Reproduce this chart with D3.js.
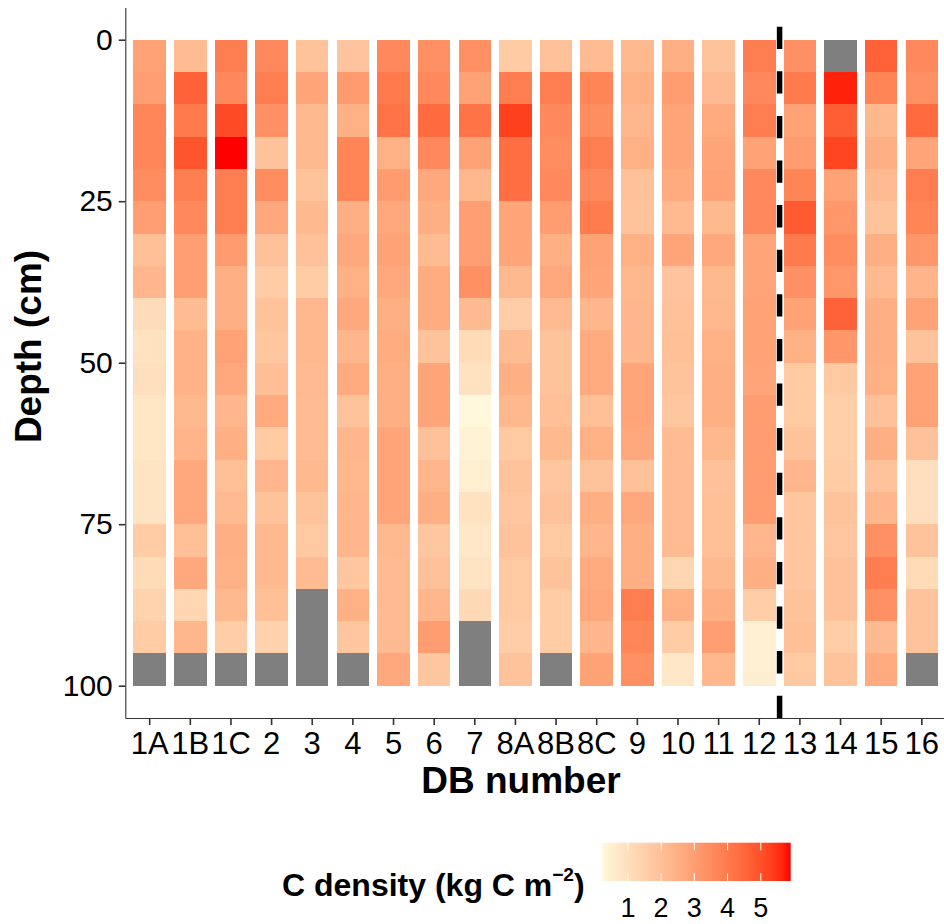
<!DOCTYPE html>
<html>
<head>
<meta charset="utf-8">
<script src="https://cdn.jsdelivr.net/npm/d3@7"></script>
<style>
  html, body { margin: 0; padding: 0; background: #ffffff; }
  svg { display: block; font-family: "Liberation Sans", Arial, Helvetica, sans-serif; }
</style>
</head>
<body>
<svg id="chart" width="944" height="924"></svg>
<script>
// Dam / DB core identifiers along the x axis
const sites = ["1A","1B","1C","2","3","4","5","6","7","8A","8B","8C","9","10","11","12","13","14","15","16"];
// Top depth (cm) of each 5 cm layer
const layerTop = [0,5,10,15,20,25,30,35,40,45,50,55,60,65,70,75,80,85,90,95];
const layerThickness = 5;
const depthTicks = [0,25,50,75,100];
const legendTicks = [1,2,3,4,5];

// Carbon density (kg C m^-2) per layer, surface to 100 cm; null = no sample
const db1A = [2.9,3.0,3.7,3.7,3.5,3.0,2.0,2.3,1.1,0.9,1.0,0.8,0.8,0.85,0.85,1.6,1.15,1.4,1.6,null];
const db1B = [2.1,4.6,4.0,4.9,3.9,3.6,3.0,3.0,2.1,2.4,2.4,2.2,2.35,2.7,2.7,2.0,2.7,1.3,2.3,null];
const db1C = [3.9,3.6,5.1,5.9,3.9,3.9,3.1,2.5,2.5,2.9,2.7,2.3,2.5,2.0,2.15,2.5,2.45,2.2,1.55,null];
const db2  = [3.6,3.9,3.4,1.9,3.5,2.7,1.95,1.6,1.9,1.75,2.05,2.65,1.7,2.3,1.9,2.2,2.2,2.0,1.45,null];
const db3  = [1.9,2.8,2.2,2.2,1.9,2.2,1.95,1.6,2.25,2.25,2.15,2.1,2.1,2.2,1.9,1.7,2.1,null,null,null];
const db4  = [1.85,3.1,2.45,3.75,3.75,2.5,2.7,2.45,2.7,2.3,2.65,1.9,2.3,2.25,2.3,2.3,1.75,2.45,1.8,null];
const db5  = [3.6,4.0,4.2,2.45,3.1,2.7,2.9,2.7,2.5,2.6,2.5,2.5,2.8,2.8,2.8,2.2,2.15,2.15,2.15,2.7];
const db6  = [3.4,3.6,4.4,3.6,2.7,2.5,2.1,2.6,2.6,1.9,2.8,2.8,1.95,2.3,2.5,1.75,1.95,2.3,3.05,1.75];
const db7  = [3.4,2.9,4.2,2.9,2.25,3.0,3.0,3.4,2.15,1.15,0.9,0.22,0.4,0.5,0.9,0.75,0.85,1.2,null,null];
const db8A = [1.65,3.9,5.3,4.3,4.3,2.8,2.8,2.2,1.55,2.1,2.5,2.25,1.7,1.9,1.8,1.9,1.7,1.7,1.55,1.9];
const db8B = [1.95,3.9,3.6,3.5,3.6,3.05,2.5,2.7,2.15,1.9,1.9,2.0,2.2,1.8,1.95,1.7,1.9,1.6,1.6,null];
const db8C = [2.1,3.75,3.5,3.9,3.6,3.95,2.9,2.8,2.3,2.65,2.65,2.0,2.45,1.9,2.5,2.3,2.65,2.7,2.3,2.9];
const db9  = [2.2,2.45,2.3,2.45,1.95,1.9,2.45,2.25,2.3,2.3,2.8,2.8,2.7,1.95,2.7,2.5,2.5,3.9,3.7,3.4];
const db10 = [2.5,3.05,2.8,2.8,2.65,2.15,2.8,1.85,1.95,2.0,1.9,1.75,2.1,2.1,2.1,2.1,1.3,2.45,1.6,0.75];
const db11 = [1.9,2.15,2.65,2.8,2.9,2.2,2.7,2.2,2.25,2.45,2.5,2.5,2.25,1.95,2.0,2.0,2.2,2.5,3.0,2.25];
const db12 = [3.9,3.6,3.9,2.9,3.6,3.6,2.8,2.8,2.9,2.9,2.8,3.05,3.05,3.05,3.05,2.3,2.5,1.55,0.5,0.5];
const db13 = [3.4,4.0,2.9,3.05,3.75,4.8,4.0,3.4,2.9,2.45,1.7,1.7,1.9,2.3,1.8,1.8,1.8,1.9,2.0,1.7];
const db14 = [null,5.7,4.7,5.2,2.9,3.2,3.5,3.2,4.6,3.2,1.7,1.5,1.5,1.6,1.9,1.8,1.95,1.95,1.55,1.9];
const db15 = [4.6,3.75,2.2,2.5,2.15,1.9,2.5,2.15,2.5,2.5,2.45,1.95,2.5,1.9,2.3,3.4,3.9,3.4,2.15,2.65];
const db16 = [3.6,3.4,4.4,2.8,3.9,3.75,3.2,2.35,2.9,1.9,2.9,2.9,1.95,1.0,1.0,1.9,1.15,1.9,1.9,null];

const profiles = [db1A,db1B,db1C,db2,db3,db4,db5,db6,db7,db8A,db8B,db8C,db9,db10,db11,db12,db13,db14,db15,db16];

// Long-form table: one record per site x layer
const cells = [];
sites.forEach((s, i) => {
  layerTop.forEach((d, j) => {
    cells.push({ site: s, top: d, value: profiles[i][j] });
  });
});

const svg = d3.select("#chart");

// Panel geometry
const panel = { left: 125.3, right: 946.2, top: 7.4, bottom: 718 };

const x = d3.scaleBand()
  .domain(sites)
  .range([panel.left, panel.right])
  .paddingInner(0.2)
  .paddingOuter(0.2);

const y = d3.scaleLinear()
  .domain([-5, 105])
  .range([panel.top, panel.bottom]);

const values = cells.map(c => c.value).filter(v => v != null);
const vMin = d3.min(values), vMax = d3.max(values);

const color = d3.scaleLinear()
  .domain([vMin, vMax])
  .range(["#FFF8DC", "#FF0000"])
  .interpolate(d3.interpolateLab);

const naColor = "#7F7F7F";

// Heat-map tiles
svg.append("g")
  .selectAll("rect")
  .data(cells)
  .join("rect")
  .attr("x", d => x(d.site))
  .attr("y", d => y(d.top))
  .attr("width", x.bandwidth())
  .attr("height", d => y(d.top + layerThickness) - y(d.top))
  .attr("fill", d => d.value == null ? naColor : color(d.value))
  .attr("shape-rendering", "crispEdges");

// Dashed divider between DB 12 and DB 13 (drawn bottom to top)
const divX = (x("12") + x("13") + x.bandwidth()) / 2;
svg.append("line")
  .attr("x1", divX).attr("x2", divX)
  .attr("y1", panel.bottom).attr("y2", panel.top)
  .attr("stroke", "#000")
  .attr("stroke-width", 5.5)
  .attr("stroke-dasharray", "22.3 22.3");

// Axes
const axisColor = "#333333";

const gy = svg.append("g")
  .attr("transform", `translate(${panel.left},0)`)
  .call(d3.axisLeft(y).tickValues(depthTicks).tickSize(6.5).tickSizeOuter(0).tickPadding(6));
gy.select(".domain").attr("stroke", axisColor).attr("stroke-width", 1.1);
gy.selectAll(".tick line").attr("stroke", axisColor).attr("stroke-width", 1.6);
gy.selectAll(".tick text")
  .attr("fill", "#000")
  .attr("font-size", 30)
  .attr("font-family", "Liberation Sans, Arial, sans-serif");

const gx = svg.append("g")
  .attr("transform", `translate(0,${panel.bottom})`)
  .call(d3.axisBottom(x).tickSize(7).tickSizeOuter(0));
gx.select(".domain").attr("stroke", axisColor).attr("stroke-width", 1.1);
gx.selectAll(".tick line").attr("stroke", axisColor).attr("stroke-width", 1.6);
gx.selectAll(".tick text")
  .attr("fill", "#000")
  .attr("font-size", 31)
  .attr("font-family", "Liberation Sans, Arial, sans-serif")
  .attr("dy", null)
  .attr("y", 36);

// Axis titles
svg.append("text")
  .attr("x", 521)
  .attr("y", 793)
  .attr("text-anchor", "middle")
  .attr("font-size", 37)
  .attr("font-weight", "bold")
  .text("DB number");

svg.append("text")
  .attr("transform", "translate(41,346.5) rotate(-90)")
  .attr("text-anchor", "middle")
  .attr("font-size", 37)
  .attr("font-weight", "bold")
  .text("Depth (cm)");

// Colour-bar legend
const bar = { x0: 602, x1: 790.7, y0: 842.7, y1: 881 };
const lx = d3.scaleLinear().domain([vMin, vMax]).range([bar.x0, bar.x1]);

const grad = svg.append("defs").append("linearGradient")
  .attr("id", "cgrad")
  .attr("x1", "0%").attr("x2", "100%").attr("y1", "0%").attr("y2", "0%");
d3.range(0, 1.0001, 0.05).forEach(t => {
  grad.append("stop")
    .attr("offset", `${t * 100}%`)
    .attr("stop-color", color(vMin + t * (vMax - vMin)));
});

svg.append("rect")
  .attr("x", bar.x0).attr("y", bar.y0)
  .attr("width", bar.x1 - bar.x0).attr("height", bar.y1 - bar.y0)
  .attr("fill", "url(#cgrad)");

const tickLen = (bar.y1 - bar.y0) / 5;
const lt = svg.append("g");
legendTicks.forEach(v => {
  lt.append("line")
    .attr("x1", lx(v)).attr("x2", lx(v))
    .attr("y1", bar.y0).attr("y2", bar.y0 + tickLen)
    .attr("stroke", "#fff").attr("stroke-width", 1);
  lt.append("line")
    .attr("x1", lx(v)).attr("x2", lx(v))
    .attr("y1", bar.y1 - tickLen).attr("y2", bar.y1)
    .attr("stroke", "#fff").attr("stroke-width", 1);
  lt.append("text")
    .attr("x", lx(v)).attr("y", 917)
    .attr("text-anchor", "middle")
    .attr("font-size", 27)
    .text(v);
});

const title = svg.append("text")
  .attr("x", 282)
  .attr("y", 896)
  .attr("text-anchor", "start")
  .attr("font-size", 32)
  .attr("font-weight", "bold");
title.append("tspan").text("C density (kg C m");
title.append("tspan").attr("font-size", 19).attr("dy", -15).text("\u22122");
title.append("tspan").attr("dy", 15).text(")");
</script>
</body>
</html>
